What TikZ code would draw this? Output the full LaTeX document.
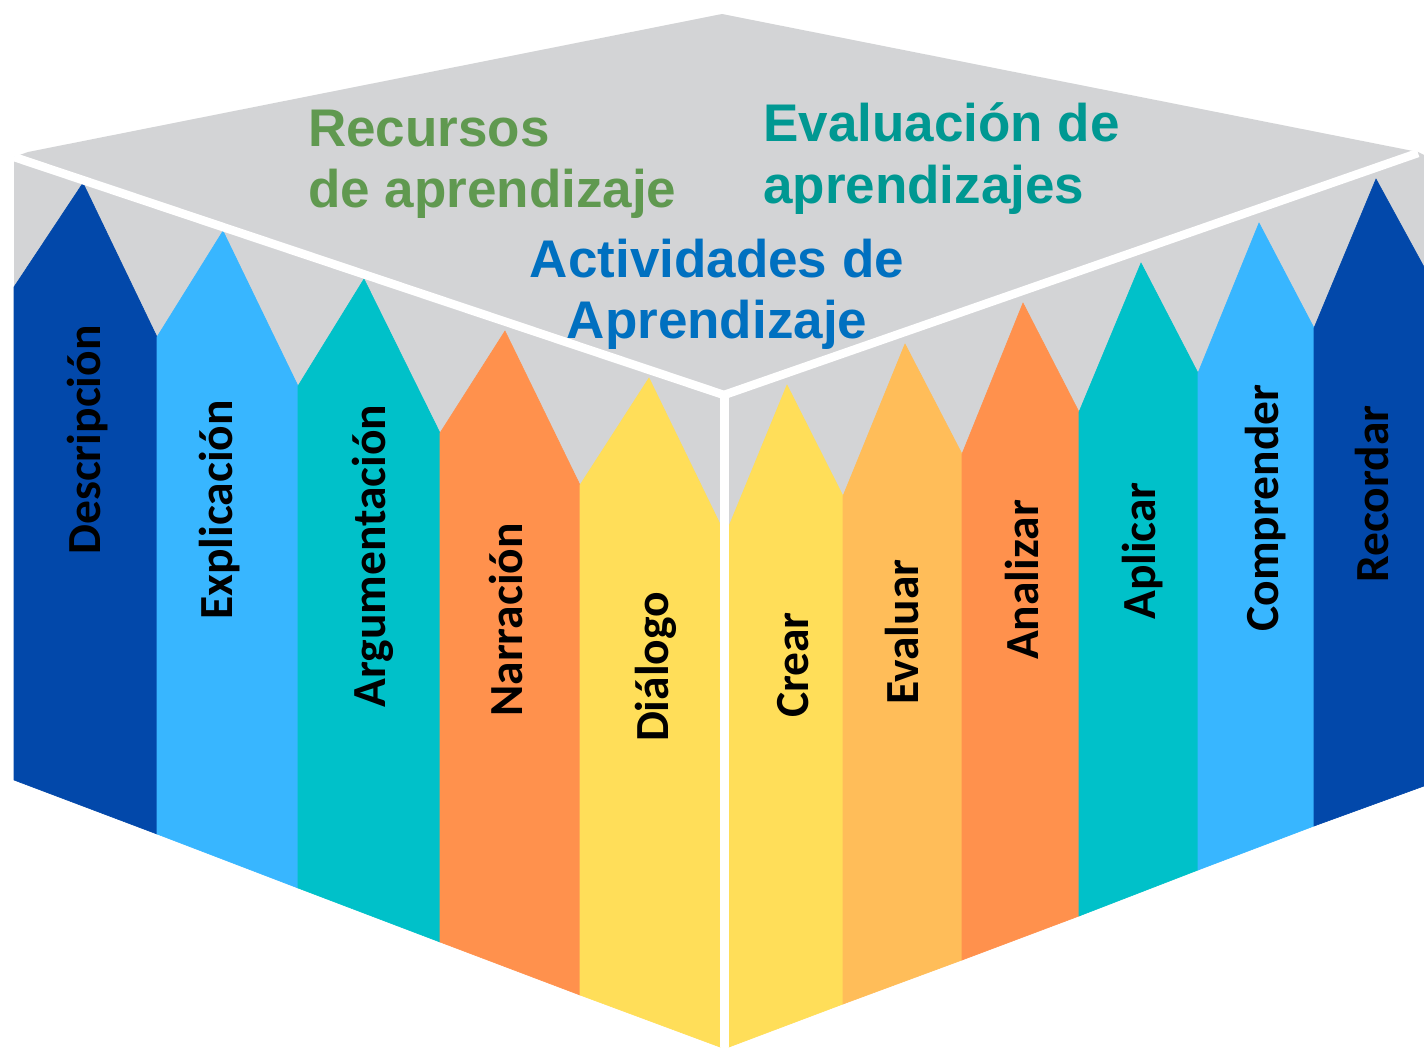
\documentclass[tikz,border=0pt]{standalone}
\usepackage{fontspec}
\setmainfont{Liberation Sans}
\newfontfamily\pencilfont{Carlito}
\definecolor{cubegray}{RGB}{211,212,214}
\definecolor{dblue}{RGB}{2,72,170}
\definecolor{lblue}{RGB}{56,182,255}
\definecolor{tealc}{RGB}{0,193,201}
\definecolor{orangec}{RGB}{255,145,77}
\definecolor{yellowc}{RGB}{255,222,89}
\definecolor{lorange}{RGB}{255,189,89}
\definecolor{recgreen}{RGB}{96,153,80}
\definecolor{evateal}{RGB}{0,152,146}
\definecolor{actblue}{RGB}{0,112,192}
\tikzset{
  pencil/.style={fill=#1, draw=#1, line width=0.6pt, line join=miter},
  lbl/.style={font=\pencilfont\bfseries\fontsize{47.5}{47.5}\selectfont, rotate=90, anchor=base, inner sep=0pt, text=black},
  toplbl/.style={font=\bfseries\fontsize{53}{61}\selectfont, inner sep=0pt},
  wline/.style={draw=white, line width=8.5pt},
}
\begin{document}
\begin{tikzpicture}[x=1pt,y=-1pt]
\useasboundingbox (0,0) rectangle (1424,1047);
\fill[white] (0,0) rectangle (1424,1047);
% gray cube top and background of faces
\fill[cubegray] (28,152) -- (722,14) -- (1418,152) -- (1424,155) -- (1424,300) -- (724,560) -- (14,300) -- (14,157) -- cycle;
% left face pencils
\path[pencil=dblue]   (14,780)  -- (14,287)  -- (83,183)  -- (157,337) -- (157,834) -- cycle;
\path[pencil=lblue]   (157,834) -- (157,337) -- (223,231) -- (298,386) -- (298,888) -- cycle;
\path[pencil=tealc]   (298,888) -- (298,386) -- (364,279) -- (440,433) -- (440,942) -- cycle;
\path[pencil=orangec] (440,942) -- (440,433) -- (505,331) -- (580,485) -- (580,995) -- cycle;
\path[pencil=yellowc] (580,995) -- (580,485) -- (649,378) -- (720,524) -- (720,1047) -- cycle;
% right face pencils
\path[pencil=yellowc] (729,1047) -- (729,526) -- (787,385) -- (843,496) -- (843,1004) -- cycle;
\path[pencil=lorange] (843,1004) -- (843,496) -- (905,344) -- (962,454) -- (962,960) -- cycle;
\path[pencil=orangec] (962,960)  -- (962,454) -- (1023,303) -- (1079,412) -- (1079,916) -- cycle;
\path[pencil=tealc]   (1079,916) -- (1079,412) -- (1141,263) -- (1198,373) -- (1198,870) -- cycle;
\path[pencil=lblue]   (1198,870) -- (1198,373) -- (1259,223) -- (1314,328) -- (1314,826) -- cycle;
\path[pencil=dblue]   (1314,826) -- (1314,328) -- (1376,179) -- (1424,267) -- (1424,786) -- cycle;
% white edges of the cube
\draw[wline, line join=round] (14,157) -- (724,395) -- (1418,153);
\draw[draw=white, line width=9pt] (724.5,395) -- (724.5,1047);
% top labels
\node[toplbl, text=recgreen, anchor=base west] (rec1) at (308,146) {Recursos};
\node[toplbl, text=recgreen, anchor=base west] (rec2) at (308,207) {de aprendizaje};
\node[toplbl, text=evateal, anchor=base west] (eva1) at (763,141) {Evaluación de};
\node[toplbl, text=evateal, anchor=base west] (eva2) at (763,203) {aprendizajes};
\node[toplbl, text=actblue, anchor=base] (act1) at (717,277) {Actividades de};
\node[toplbl, text=actblue, anchor=base] (act2) at (717,338) {Aprendizaje};
% pencil labels
\node[lbl] (l1) at (100,440) {Descripción};
\node[lbl] (l2) at (232,510) {Explicación};
\node[lbl] (l3) at (385,556) {Argumentación};
\node[lbl] (l4) at (522,620) {Narración};
\node[lbl] (l5) at (668,667) {Diálogo};
\node[lbl] (l6) at (808,665) {Crear};
\node[lbl] (l7) at (918,632) {Evaluar};
\node[lbl] (l8) at (1038,580) {Analizar};
\node[lbl] (l9) at (1155,551) {Aplicar};
\node[lbl] (l10) at (1278,508) {Comprender};
\node[lbl] (l11) at (1388,494) {Recordar};
\end{tikzpicture}
\end{document}
